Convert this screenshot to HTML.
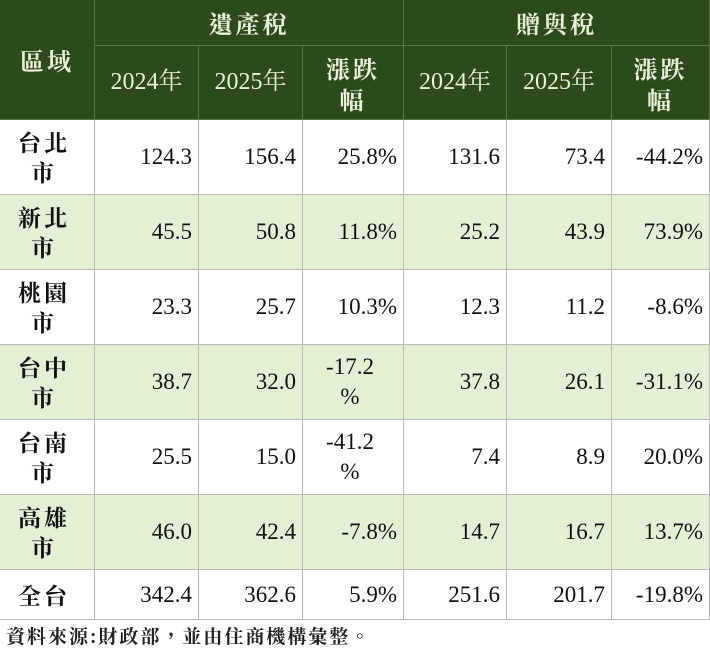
<!DOCTYPE html><html><head><meta charset="utf-8"><style>
body{margin:0;width:710px;height:666px;background:#fff;position:relative;overflow:hidden;font-family:"Liberation Serif","Noto Serif CJK SC",serif;}
.c{position:absolute;box-sizing:border-box;display:flex;align-items:center;font-size:23px;color:#111;}
.h{background:#2c4a1b;color:#e8f0dc;justify-content:center;text-align:center;line-height:31px;border-right:1px solid #5a7548;border-bottom:1px solid #5a7548;font-size:24px;}
.b{border-right:1px solid #bbb;border-bottom:1px solid #bbb;justify-content:flex-end;padding-right:6px;}
.r{justify-content:center;text-align:center;line-height:30px;font-size:23px;font-weight:bold;letter-spacing:3px;font-family:"Noto Serif CJK TC","Noto Serif CJK SC",serif;}
.p{justify-content:center;text-align:center;line-height:30px;}
.g{background:#e3f0d6;}
.hc{font-family:'Noto Serif CJK TC',serif;font-weight:bold;letter-spacing:3px;}
.ft{position:absolute;left:6px;top:622px;font-size:19px;letter-spacing:2px;font-weight:bold;font-family:"Noto Serif CJK TC","Noto Serif CJK SC",serif;color:#222;}
</style></head><body>
<div class="c h hc" style="left:0;top:0;width:95px;height:120px">區域</div>
<div class="c h hc" style="left:95px;top:0;width:309px;height:46px">遺產稅</div>
<div class="c h hc" style="left:404px;top:0;width:306px;height:46px">贈與稅</div>
<div id="body"></div>
<div class="ft">資料來源:財政部，並由住商機構彙整。</div>
<script>
var xs=[0,95,199,303,404,507,612,710];
var hd=["2024年","2025年","<span class='hc'>漲跌<br>幅</span>","2024年","2025年","<span class='hc'>漲跌<br>幅</span>"];
var s="";
for(var i=0;i<6;i++)s+='<div class="c h" style="left:'+xs[i+1]+'px;top:46px;width:'+(xs[i+2]-xs[i+1])+'px;height:74px">'+hd[i]+'</div>';
var rows=[["台北<br>市","124.3","156.4","25.8%","131.6","73.4","-44.2%"],
["新北<br>市","45.5","50.8","11.8%","25.2","43.9","73.9%"],
["桃園<br>市","23.3","25.7","10.3%","12.3","11.2","-8.6%"],
["台中<br>市","38.7","32.0","-17.2<br>%","37.8","26.1","-31.1%"],
["台南<br>市","25.5","15.0","-41.2<br>%","7.4","8.9","20.0%"],
["高雄<br>市","46.0","42.4","-7.8%","14.7","16.7","13.7%"],
["全台","342.4","362.6","5.9%","251.6","201.7","-19.8%"]];
var ys=[120,195,270,345,420,495,570,620];
for(var r=0;r<7;r++){for(var c=0;c<7;c++){var cl="c b"+(r%2==1?" g":"");var v=rows[r][c];
if(c==0)cl+=" r";else if(v.indexOf("<br>")>=0)cl+=" p";
s+='<div class="'+cl+'" style="left:'+xs[c]+'px;top:'+ys[r]+'px;width:'+(xs[c+1]-xs[c])+'px;height:'+(ys[r+1]-ys[r])+'px">'+v+'</div>';}}
document.getElementById("body").innerHTML=s;
</script>
</body></html>
